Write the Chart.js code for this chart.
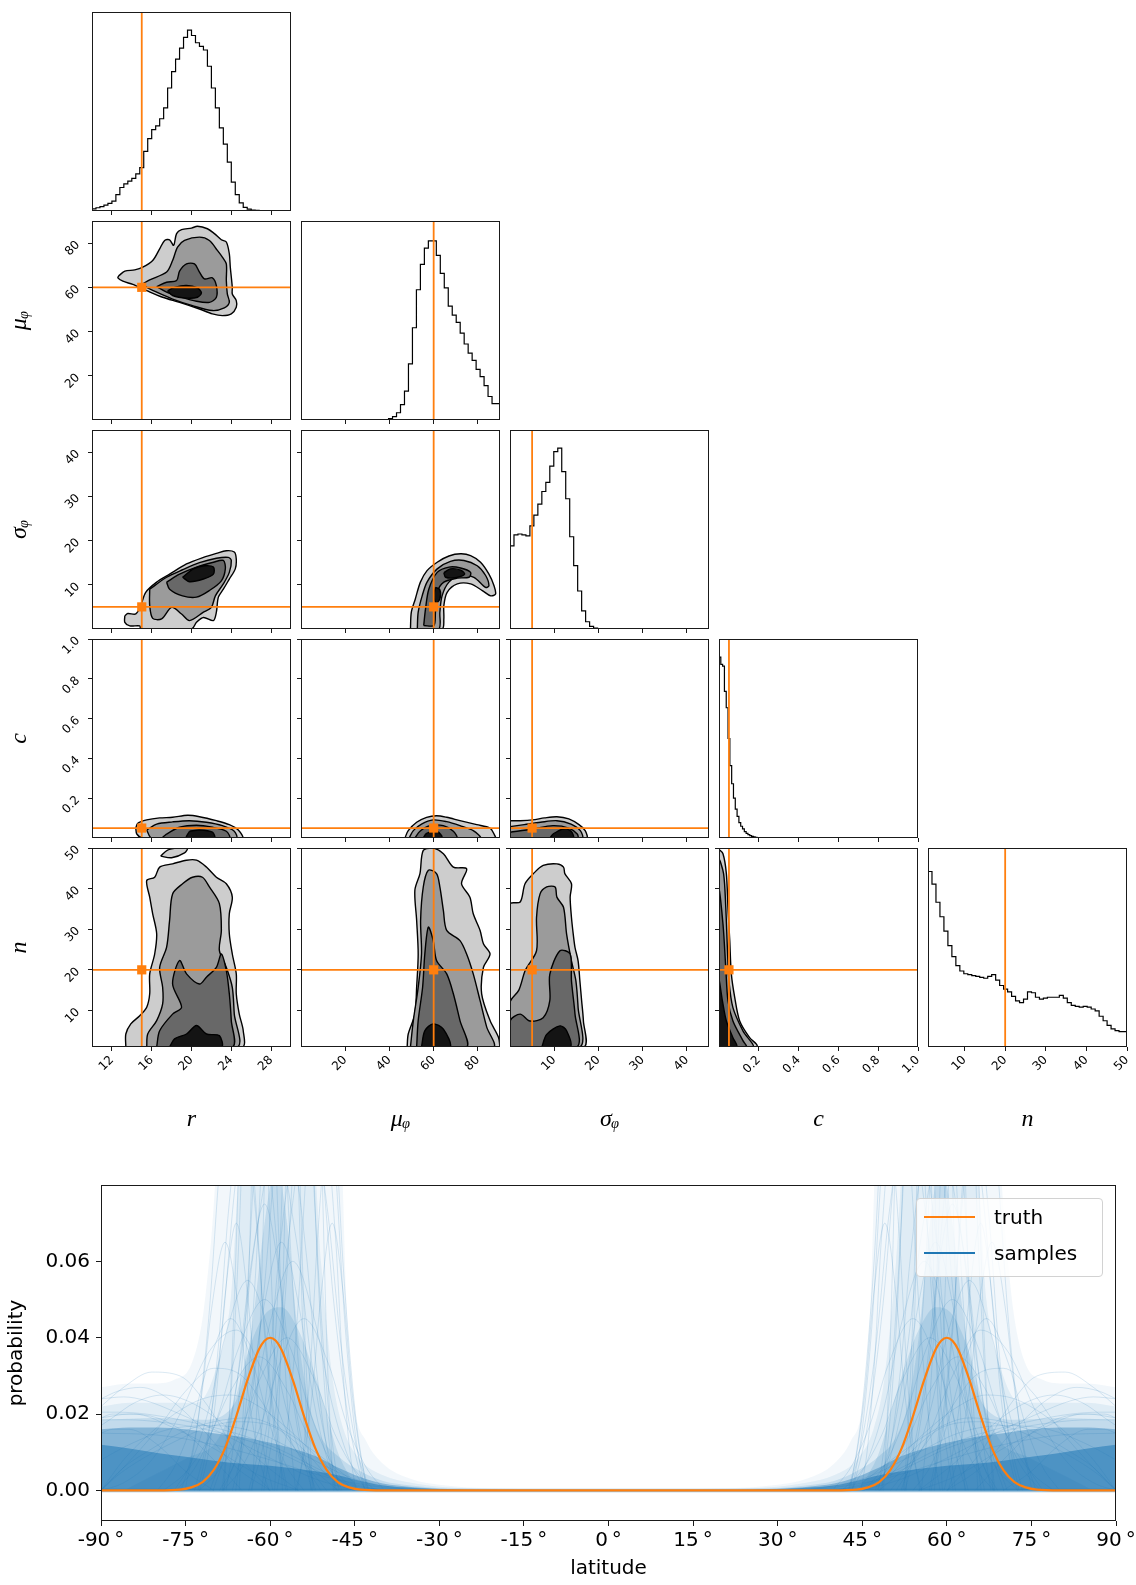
<!DOCTYPE html>
<html><head><meta charset="utf-8">
<script src="https://cdn.jsdelivr.net/npm/chart.js@4.4.1/dist/chart.umd.min.js"></script>
<style>
html,body{margin:0;padding:0;background:#fff;}
#fig{position:relative;width:1136px;height:1585px;overflow:hidden;background:#fff;}
#fig canvas{position:absolute;}
#legend{position:absolute;left:916px;top:1198px;width:187px;height:79px;box-sizing:border-box;border:1px solid #d2d2d2;border-radius:4px;background:rgba(255,255,255,0.8);font-family:'DejaVu Sans',sans-serif;font-size:20px;color:#000;}
#legend .ln{position:absolute;left:7px;width:51px;height:2px;}
#legend .tx{position:absolute;left:77px;line-height:23px;white-space:nowrap;}
</style>
</head><body>
<div id="fig">
<div id="legend">
  <div class="ln" style="top:17px;background:#ff7f0e"></div><div class="tx" style="top:7px">truth</div>
  <div class="ln" style="top:53px;background:#1f77b4"></div><div class="tx" style="top:43px">samples</div>
</div>
</div>
<script>
// ---------------- corner plot data ----------------
const paramLabels = ['r', 'μᵩ', 'σᵩ', 'c', 'n'];
const paramMin = [10, 0, 0, 0, 1];
const paramMax = [30, 90, 45, 1, 50];
const paramTicks = [[12,16,20,24,28],[20,40,60,80],[10,20,30,40],[0.2,0.4,0.6,0.8,1.0],[10,20,30,40,50]];
const truthValues = [15, 60, 5, 0.05, 20];

// 1D marginal histograms (relative heights, peak = 100), equal bins across each range
const histR = [0.8,1.2,1.8,2.4,3.2,4.2,5.5,9,13,15, 16.5,18,20.5,24,33,40,45,47,51,57,
  68,77,84,90,96,100,97,93,91,89, 80,68,57,46,37,27,16,9,4.5,2, 1,0.5,0.3,0.1,0,0,0,0,0,0];
const histMu = [0,0,0,0,0,0,0,0,0,0, 0,0,0,0,0,0,0,0,0,0, 0,0,0.2,0.8,1.9,4,8.5,16,31,51,
  72,86,95,99,99,91,81,73,63,58, 54,48,42,37,33,28,24,19,13,9];
const histSigma = [38,46,52,52.5,52,51.5,57,63,69,76, 81,90,98,100,87,72,51,35,21,10,
  4,1.5,0.5,0.1,0,0,0,0,0,0, 0,0,0,0,0,0,0,0,0,0, 0,0,0,0,0,0,0,0,0,0];
const histC = [92,100,96,95,81,72,55,40,30,22, 16,12,8.5,6.5,5,3.5,2.6,1.9,1.3,0.9,
  0.6,0.4,0.25,0.15,0.1,0.05,0,0,0,0, 0,0,0,0,0,0,0,0,0,0, 0,0,0,0,0,0,0,0,0,0,
  0,0,0,0,0,0,0,0,0,0, 0,0,0,0,0,0,0,0,0,0, 0,0,0,0,0,0,0,0,0,0, 0,0,0,0,0,0,0,0,0,0,
  0,0,0,0,0,0,0,0,0,0, 0,0,0,0,0,0,0,0,0,0];
const histN = [100,97,90,80,72,64,56,50,45,42, 40.5,40,39.5,39,38.5,38,39,40,37,34,
  32,30.5,28,25.5,24.5,26.5,30.5,30,27.5,26.5, 27,27.5,27.5,27.5,28.5,27,24.5,23,22.5,22,
  22.5,22,21,20,17,14.5,12,10,9,8.5];

// 2D contour levels (each level: list of polygons in data units [x, y])
const contMuR = [
 [[[12.7,65.3],[13.3,67.3],[14.3,67.9],[15.1,69.1],[16.1,72.1],[16.8,77.4],[17.3,81.2],[17.8,81.5],[18.2,79],[18.5,84.3],[19.0,86.1],[20.0,86.8],[20.6,87.6],[21.6,86.5],[22.3,84.3],[23.0,81.5],[23.5,80.5],[23.8,75.2],[23.9,69.1],[24.1,60],[24.1,57],[24.5,54],[24.5,51],[24.0,48],[23.1,47.2],[22.1,48],[20.8,50.2],[18.8,53.2],[17.1,55.5],[15.5,58.5],[14.1,61.3],[13.1,62.8],[12.6,64.3]]],
 [[[15.1,61.6],[15.8,63.4],[17.5,66.9],[18.1,72.1],[18.6,78.2],[19.3,81.2],[20.8,82.7],[21.8,81.2],[22.6,76.7],[23.1,73.7],[23.5,70.6],[23.5,63.1],[23.6,57],[23.8,53.2],[23.3,50.7],[22.1,49.5],[20.1,51.7],[18.1,54.7],[16.5,57.8],[15.5,60]]],
 [[[16.5,60.3],[17.5,62.3],[18.5,63.1],[18.8,67.3],[19.5,70.6],[20.3,70.6],[20.8,66.9],[21.3,63.8],[22.1,64.3],[22.5,60.8],[22.5,55.5],[21.8,53.2],[20.5,53.7],[18.8,55.8],[17.5,57.8]]],
 [[[17.6,58.5],[18.3,60],[19.5,60.8],[20.6,59.7],[21.0,57.5],[20.6,55.5],[19.5,55.1],[18.1,56.3]]]
];
const contSigmaR = [
 [[[13.3,3.0],[13.6,3.5],[14.4,3.4],[14.9,5.3],[15.4,8.3],[16.5,10.6],[17.8,12.4],[19.5,14.7],[21.2,16.2],[22.5,17.1],[23.5,17.7],[24.3,17.4],[24.5,15.8],[24.4,13.6],[23.8,11.3],[23.2,9.0],[22.7,7.2],[22.5,3.8],[22.2,1.9],[21.2,2.6],[20.5,1.5],[20.0,0],[14.9,0],[14.8,0.7],[13.8,0.7],[13.3,1.5]]],
 [[[15.8,9.0],[17.5,11.7],[19.1,13.4],[20.8,15.0],[22.5,16.0],[23.7,16.2],[24.0,15.5],[23.8,12.8],[23.2,10.2],[22.4,7.5],[22.0,4.9],[21.2,3.8],[19.8,1.9],[19.0,3.4],[18.0,4.9],[17.0,2.3],[16.1,2.4],[15.8,5.3]]],
 [[[17.5,10.6],[18.8,12.4],[20.5,14.0],[22.2,15.1],[23.2,15.5],[23.4,13.6],[23.0,10.9],[21.8,8.7],[20.5,7.2],[19.1,7.5],[17.8,9.0]]],
 [[[19.1,11.7],[20.2,13.6],[21.3,14.3],[22.2,14.0],[22.2,12.4],[21.2,11.3],[19.8,10.7]]]
];
const contSigmaMu = [
 [[[49.5,0],[49.9,3.8],[51.7,6.8],[54.0,10.6],[57.0,13.2],[61.6,15.1],[66.9,16.5],[72.2,17.0],[76.7,16.6],[81.2,15.1],[85.0,12.4],[87.3,9.8],[88.0,7.9],[85.8,7.5],[82.0,8.7],[76.7,10.2],[70.7,10.2],[66.1,8.3],[64.6,5.3],[64.6,2.3],[63.8,0]]],
 [[[52.6,0],[53.0,3.8],[54.8,7.5],[57.0,10.6],[61.6,13.6],[67.6,15.3],[73.7,15.5],[79.7,14.3],[83.5,12.1],[85.0,9.8],[83.5,9.4],[78.2,11.7],[72.2,12.1],[66.9,10.6],[63.8,7.5],[62.8,3.8],[62.3,0]]],
 [[[55.5,0.8],[56.3,4.5],[57.8,9.0],[61.6,12.8],[66.9,14.0],[72.2,13.8],[76.7,12.8],[76.0,11.7],[70.7,11.5],[64.6,10.6],[61.6,8.3],[60.8,3.8],[60.1,0.8]]],
 [[[64.6,12.7],[67.6,13.6],[72.2,13.3],[74.0,12.4],[69.9,11.6],[65.4,11.7]],
  [[60.8,9.4],[62.8,8.9],[62.8,6.8],[61.1,5.9],[60.1,7.5]]]
];
const contCR = [
 [[[14.4,0.05],[14.6,0.074],[15.5,0.091],[16.8,0.101],[18.1,0.104],[19.6,0.114],[20.8,0.107],[22.5,0.087],[23.8,0.067],[24.7,0.04],[25.1,0],[15.1,0],[14.5,0.02]]],
 [[[15.5,0.04],[16.5,0.07],[18.1,0.081],[19.8,0.087],[21.5,0.079],[23.1,0.062],[24.3,0.034],[24.5,0],[16.0,0]]],
 [[[17.5,0.02],[18.8,0.054],[20.5,0.064],[22.1,0.054],[23.5,0.034],[23.8,0],[17.1,0]]],
 [[[19.8,0.034],[20.8,0.04],[22.1,0.029],[22.3,0],[19.5,0]]]
];
const contCMu = [
 [[[47.0,0],[48.5,0.037],[52.3,0.079],[56.8,0.104],[61.3,0.112],[65.9,0.104],[71.9,0.087],[79.5,0.067],[85.5,0.05],[87.3,0.02],[87.8,0]]],
 [[[48.9,0],[50.8,0.037],[54.5,0.07],[59.8,0.091],[65.9,0.082],[71.9,0.062],[77.9,0.037],[81.0,0]]],
 [[[51.5,0],[53.8,0.034],[58.3,0.062],[64.4,0.062],[68.9,0.034],[70.4,0]]],
 [[[55.3,0],[56.8,0.023],[61.3,0.034],[63.6,0.012],[63.6,0]]]
];
const contCSigma = [
 [[[0,0.087],[2.3,0.087],[5.1,0.091],[7.8,0.101],[10.6,0.107],[13.3,0.096],[15.6,0.067],[17.0,0.037],[17.3,0],[0,0]]],
 [[[0,0.057],[3.2,0.067],[6.9,0.079],[10.6,0.087],[13.8,0.07],[15.9,0.037],[16.3,0],[0,0]]],
 [[[0,0.029],[5.1,0.045],[9.7,0.062],[13.3,0.05],[15.2,0.02],[15.3,0],[0,0]]],
 [[[9.7,0.02],[12.0,0.045],[13.8,0.034],[14.3,0],[9.2,0]]]
];
const contNR = [
 [[[13.4,1],[13.4,4.2],[13.9,6.7],[14.8,8.7],[15.5,10.8],[15.8,14.1],[15.8,19.0],[16.3,23.9],[16.5,28.9],[16.1,33.8],[15.8,37.9],[15.5,42.0],[16.3,42.8],[16.8,45.3],[18.1,46.1],[19.5,47.0],[20.5,47.0],[21.5,45.3],[22.5,42.8],[23.5,41.2],[24.1,37.9],[23.8,33.8],[23.8,28.9],[24.1,23.9],[24.5,19.0],[24.5,14.1],[24.8,9.1],[25.2,5.0],[25.1,1]],
  [[16.9,48.0],[17.6,49.5],[18.8,50],[19.6,50],[19.3,48.8],[18.0,47.6]]],
 [[[15.5,1],[15.6,4.2],[16.5,7.5],[17.1,11.6],[17.1,15.7],[16.8,20.6],[17.5,25.6],[17.8,32.2],[18.1,38.7],[19.1,41.2],[20.1,42.8],[21.1,42.8],[21.8,40.4],[22.8,36.3],[23.0,29.7],[22.8,24.8],[23.5,20.6],[24.1,15.7],[24.3,9.1],[24.6,1]]],
 [[[16.5,1],[16.8,5.0],[18.1,9.1],[19.0,10.8],[18.1,16.5],[18.8,22.3],[19.5,19.0],[20.8,16.5],[21.5,18.2],[22.5,20.6],[23.0,23.9],[23.5,19.8],[23.8,14.1],[24.0,7.5],[24.1,1]]],
 [[[17.8,1],[18.3,3.0],[19.5,4.2],[20.5,6.3],[21.5,4.2],[22.8,3.8],[23.0,1]]]
];
const contNMu = [
 [[[48.0,1],[48.5,4.2],[51.5,9.1],[52.3,15.7],[53.0,23.9],[52.3,32.2],[51.5,39.6],[53.8,43.7],[55.3,49.4],[59.8,50],[64.4,48.6],[68.9,45.3],[74.9,44.9],[72.6,41.2],[76.4,37.9],[77.9,33.8],[81.0,29.7],[82.5,26.4],[85.5,23.9],[82.5,20.6],[81.7,14.1],[85.5,7.5],[89.3,3.4],[89.7,1]]],
 [[[49.5,1],[50.8,7.5],[53.0,15.7],[54.5,23.9],[54.1,32.2],[55.3,40.4],[57.6,44.5],[61.3,43.7],[62.8,40.4],[64.4,34.6],[65.9,29.7],[71.9,27.2],[74.9,23.9],[77.9,19.0],[81.0,12.4],[84.0,5.9],[87.0,1]]],
 [[[52.3,1],[53.0,7.5],[55.0,15.7],[56.0,23.9],[57.6,30.5],[59.8,27.2],[61.3,22.3],[65.9,19.0],[68.9,14.1],[71.9,7.5],[74.9,1]]],
 [[[54.5,1],[56.0,5.0],[59.8,6.7],[64.4,5.4],[67.4,1]]]
];
const contNSigma = [
 [[[0,1],[0,36.2],[2.3,36.7],[3.4,41.2],[5.3,43.7],[7.5,45.7],[10.6,46.1],[12.1,45.3],[12.4,43.7],[13.9,41.2],[13.6,37.9],[13.9,32.9],[14.3,28.8],[14.7,25.5],[15.4,22.2],[15.8,17.3],[16.2,12.4],[16.6,7.4],[16.7,1]]],
 [[[0,1],[0,12],[2.0,15],[3.5,20],[6.0,24.7],[6.0,32.9],[6.8,38.7],[8.3,40.4],[10.2,40.4],[10.6,37.9],[12.1,35.4],[12.8,28.8],[13.9,22.2],[14.9,17.3],[15.4,10.7],[15.8,1]]],
 [[[0,1],[0,7.4],[2.3,9.1],[4.5,7.4],[7.5,8.2],[9.0,12.4],[9.0,18.9],[11.3,24.7],[13.6,23.9],[13.9,17.3],[14.7,9.1],[15.1,1]]],
 [[[7.2,1],[8.3,4.1],[11.3,6.2],[12.8,5.0],[13.6,1]]]
];
const contNC = [
 [[[0,1],[0,49.4],[0.02,48.6],[0.037,43.7],[0.045,35.4],[0.054,27.2],[0.062,19.0],[0.079,13.2],[0.104,7.4],[0.154,3.3],[0.188,1.7],[0.191,1]]],
 [[[0,1],[0,47.0],[0.023,43.7],[0.034,35.4],[0.042,25.5],[0.05,17.3],[0.07,10.7],[0.121,4.9],[0.171,1]]],
 [[[0,1],[0,39.5],[0.02,31.3],[0.034,20.6],[0.045,12.4],[0.07,7.4],[0.121,2.5],[0.137,1]]],
 [[[0,1],[0,17.3],[0.017,12.4],[0.037,7.4],[0.07,3.3],[0.09,1]]]
];

// ---------------- latitude distribution data ----------------
const latTicks = [-90,-75,-60,-45,-30,-15,0,15,30,45,60,75,90];
const probTicks = [0, 0.02, 0.04, 0.06];
const truthLat = [-90,-80,-76,-74,-72,-70,-68,-66,-64,-62,-61,-60,-59,-58,-56,-54,-52,-50,-48,-46,-44,-40,0,40,44,46,48,50,52,54,56,58,59,60,61,62,64,66,68,70,72,74,76,80,90];
const truthProb = [0,0,0.0002,0.0008,0.0022,0.0054,0.0111,0.0195,0.029,0.0369,0.0392,0.04,0.0392,0.0369,0.029,0.0195,0.0111,0.0054,0.0022,0.0008,0.0002,0,0,0,0.0002,0.0008,0.0022,0.0054,0.0111,0.0195,0.029,0.0369,0.0392,0.04,0.0392,0.0369,0.029,0.0195,0.0111,0.0054,0.0022,0.0008,0.0002,0,0];
// density envelopes of the posterior sample curves (northern half; the model is symmetric)
const envHaze  = [[0,0.0002],[20,0.0005],[30,0.0015],[35,0.003],[40,0.007],[43,0.013],[45,0.022],[46.5,0.05],[47.5,0.09],[69,0.09],[70.5,0.065],[72,0.045],[74,0.033],[77,0.029],[81,0.028],[85,0.028],[90,0.027]];
const envLight = [[0,0.0001],[20,0.0003],[30,0.001],[35,0.002],[40,0.004],[44,0.008],[47,0.016],[49,0.03],[51,0.06],[52.5,0.09],[65,0.09],[67,0.05],[70,0.03],[73,0.023],[80,0.023],[85,0.023],[90,0.022]];
const envMid   = [[25,0],[30,0.0006],[35,0.0013],[40,0.0025],[44,0.005],[48,0.009],[51,0.014],[53,0.022],[55,0.04],[57,0.07],[59,0.085],[61,0.07],[63,0.045],[65,0.028],[68,0.02],[72,0.0185],[80,0.019],[90,0.0185]];
const envSpike = [[44,0],[46,0.004],[48,0.01],[50,0.02],[52,0.03],[55,0.042],[58,0.048],[61,0.046],[64,0.036],[66,0.025],[68,0.017],[70,0.012],[74,0.009],[78,0.006],[82,0.003],[86,0]];
const envBand  = [[20,0],[30,0.0004],[35,0.0009],[40,0.0018],[44,0.0035],[48,0.006],[52,0.009],[56,0.011],[60,0.0125],[65,0.014],[70,0.015],[75,0.016],[80,0.0165],[85,0.0165],[90,0.016]];
const envCore  = [[15,0],[30,0.0003],[35,0.0007],[40,0.0013],[44,0.0025],[48,0.004],[52,0.005],[56,0.0058],[60,0.0065],[65,0.007],[70,0.0078],[75,0.0088],[80,0.0098],[85,0.011],[90,0.012]];
const envAlpha = [0.06, 0.09, 0.15, 0.14, 0.38, 0.55];
// individual sample curves (northern half)
const spikeCurves = [
 [[42.5,0],[44,0.0095],[45.5,0.026],[47,0.051],[49,0.07],[51,0.051],[52.5,0.026],[54,0.0095],[55.5,0]],
 [[43.2,0],[45,0.016],[46.8,0.045],[48.6,0.088],[51,0.12],[53.4,0.088],[55.2,0.045],[57,0.016],[58.8,0]],
 [[42.6,0],[45,0.0135],[47.4,0.0375],[49.8,0.073],[53,0.1],[56.2,0.073],[58.6,0.0375],[61,0.0135],[63.4,0]],
 [[48.5,0],[50,0.02],[51.5,0.056],[53,0.11],[55,0.15],[57,0.11],[58.5,0.056],[60,0.02],[61.5,0]],
 [[43,0],[46,0.0081],[49,0.0225],[52,0.044],[56,0.06],[60,0.044],[63,0.0225],[66,0.0081],[69,0]],
 [[47.9,0],[50,0.027],[52.1,0.075],[54.2,0.146],[57,0.2],[59.8,0.146],[61.9,0.075],[64,0.027],[66.1,0]],
 [[52.8,0],[54,0.034],[55.2,0.094],[56.4,0.18],[58,0.25],[59.6,0.18],[60.8,0.094],[62,0.034],[63.2,0]],
 [[47.3,0],[50,0.012],[52.7,0.034],[55.4,0.066],[59,0.09],[62.6,0.066],[65.3,0.034],[68,0.012],[70.7,0]],
 [[52.2,0],[54,0.0176],[55.8,0.049],[57.6,0.095],[60,0.13],[62.4,0.095],[64.2,0.049],[66,0.0176],[67.8,0]],
 [[45.4,0],[49,0.0068],[52.6,0.019],[56.2,0.0365],[61,0.05],[65.8,0.0365],[69.4,0.019],[73,0.0068],[76.6,0]],
 [[55.5,0],[57,0.024],[58.5,0.0675],[60,0.131],[62,0.18],[64,0.131],[65.5,0.0675],[67,0.024],[68.5,0]],
 [[52.6,0],[55,0.0149],[57.4,0.041],[59.8,0.08],[63,0.11],[66.2,0.08],[68.6,0.041],[71,0.0149],[73.4,0]],
 [[57.2,0],[59,0.0135],[60.8,0.0375],[62.6,0.073],[65,0.1],[67.4,0.073],[69.2,0.0375],[71,0.0135],[72.8,0]],
 [[59.5,0],[61,0.0095],[62.5,0.026],[64,0.051],[66,0.07],[68,0.051],[69.5,0.026],[71,0.0095],[72.5,0]],
 [[39.7,0],[43,0.0061],[46.3,0.0169],[49.6,0.0329],[54,0.045],[58.4,0.0329],[61.7,0.0169],[65,0.0061],[68.3,0]],
 [[54,0],[57,0.0061],[60,0.0169],[63,0.0329],[67,0.045],[71,0.0329],[74,0.0169],[77,0.0061],[80,0]],
 [[44.8,0],[46,0.012],[47.2,0.034],[48.4,0.066],[50,0.09],[51.6,0.066],[52.8,0.034],[54,0.012],[55.2,0]],
 [[42.9,0],[45,0.0216],[47.1,0.06],[49.2,0.117],[52,0.16],[54.8,0.117],[56.9,0.06],[59,0.0216],[61.1,0]],
 [[48.8,0],[50,0.0405],[51.2,0.1125],[52.4,0.219],[54,0.3],[55.6,0.219],[56.8,0.1125],[58,0.0405],[59.2,0]],
 [[48.2,0],[50,0.0115],[51.8,0.0319],[53.6,0.062],[56,0.085],[58.4,0.062],[60.2,0.0319],[62,0.0115],[63.8,0]],
 [[47.6,0],[50,0.0088],[52.4,0.0244],[54.8,0.0475],[58,0.065],[61.2,0.0475],[63.6,0.0244],[66,0.0088],[68.4,0]],
 [[52.5,0],[54,0.047],[55.5,0.131],[57,0.255],[59,0.35],[61,0.255],[62.5,0.131],[64,0.047],[65.5,0]],
 [[51.9,0],[54,0.0101],[56.1,0.0281],[58.2,0.0548],[61,0.075],[63.8,0.0548],[65.9,0.0281],[68,0.0101],[70.1,0]],
 [[57.8,0],[59,0.027],[60.2,0.075],[61.4,0.146],[63,0.2],[64.6,0.146],[65.8,0.075],[67,0.027],[68.2,0]],
 [[51,0],[54,0.0074],[57,0.0206],[60,0.0402],[64,0.055],[68,0.0402],[71,0.0206],[74,0.0074],[77,0]],
 [[56.9,0],[59,0.0162],[61.1,0.045],[63.2,0.0876],[66,0.12],[68.8,0.0876],[70.9,0.045],[73,0.0162],[75.1,0]],
 [[60.2,0],[62,0.0088],[63.8,0.0244],[65.6,0.0475],[68,0.065],[70.4,0.0475],[72.2,0.0244],[74,0.0088],[75.8,0]],
 [[41.4,0],[45,0.0054],[48.6,0.015],[52.2,0.0292],[57,0.04],[61.8,0.0292],[65.4,0.015],[69,0.0054],[72.6,0]],
 [[45.1,0],[49,0.0047],[52.9,0.0131],[56.8,0.0256],[62,0.035],[67.2,0.0256],[71.1,0.0131],[75,0.0047],[78.9,0]],
 [[43.3,0],[46,0.0176],[48.7,0.049],[51.4,0.095],[55,0.13],[58.6,0.095],[61.3,0.049],[64,0.0176],[66.7,0]]
];
const broadCurves = [
 [[38,0],[45,0.0012],[50,0.004],[55,0.0075],[60,0.011],[65,0.0135],[70,0.0155],[75,0.017],[80,0.018],[85,0.0185],[90,0.0185]],
 [[40,0],[46,0.002],[52,0.006],[58,0.0105],[64,0.014],[70,0.0165],[76,0.0185],[82,0.02],[87,0.0205],[90,0.0205]],
 [[45,0],[52,0.003],[58,0.007],[64,0.0115],[70,0.016],[76,0.02],[82,0.0235],[86,0.0245],[90,0.024]],
 [[60,0],[66,0.006],[72,0.016],[78,0.024],[83,0.027],[87,0.026],[90,0.024]],
 [[55,0],[62,0.008],[68,0.017],[74,0.023],[79,0.025],[84,0.023],[88,0.019],[90,0.017]],
 [[50,0.004],[55,0.012],[60,0.017],[66,0.018],[72,0.016],[78,0.012],[83,0.008],[87,0.004],[90,0]],
 [[45,0.002],[52,0.01],[58,0.016],[64,0.019],[70,0.018],[76,0.015],[82,0.01],[86,0.006],[90,0]],
 [[50,0.006],[56,0.015],[62,0.022],[67,0.025],[72,0.024],[77,0.02],[82,0.014],[86,0.008],[90,0]],
 [[50,0],[56,0.012],[61,0.03],[66,0.042],[71,0.036],[76,0.02],[81,0.008],[86,0.002],[90,0]],
 [[70,0],[75,0.005],[80,0.012],[85,0.016],[88,0.016],[90,0.015]],
 [[30,0],[40,0.0008],[50,0.0035],[60,0.008],[70,0.012],[80,0.0145],[90,0.015]],
 [[65,0],[70,0.008],[75,0.015],[80,0.019],[85,0.02],[90,0.019]],
 [[60,0],[66,0.01],[71,0.022],[76,0.03],[81,0.031],[86,0.027],[90,0.022]],
 [[35,0],[45,0.003],[55,0.01],[62,0.015],[70,0.017],[78,0.016],[85,0.012],[90,0.008]],
 [[55,0],[62,0.004],[70,0.011],[78,0.017],[84,0.02],[88,0.02],[90,0.019]],
 [[48,0],[54,0.008],[60,0.02],[65,0.03],[70,0.032],[75,0.026],[80,0.016],[86,0.006],[90,0]]
];

// ---------------- helpers ----------------
const ORANGE = '#ff7f0e';
const levelColors = ['#cdcdcd', '#9b9b9b', '#686868', '#141414'];
const histograms = [histR, histMu, histSigma, histC, histN];
const contourTable = {'1,0': contMuR, '2,0': contSigmaR, '2,1': contSigmaMu, '3,0': contCR, '3,1': contCMu,
  '3,2': contCSigma, '4,0': contNR, '4,1': contNMu, '4,2': contNSigma, '4,3': contNC};
const toXY = pts => pts.map(([x, y]) => ({x, y}));
const mirror = pts => pts.map(([x, y]) => [-x, y]).reverse();
const closePoly = pts => toXY(pts.concat([pts[0]]));
function stepPoints(lo, hi, vals) {
  const w = (hi - lo) / vals.length;
  const pts = vals.map((v, k) => ({x: lo + k * w, y: v}));
  pts.push({x: hi, y: vals[vals.length - 1]});
  return pts;
}
const fmtParam = (p, v) => p === 3 ? v.toFixed(1) : String(Math.round(v));
function fixSize(prop, size) {
  return s => {
    s[prop] = size;
    s.paddingTop = 0; s.paddingBottom = 0; s.paddingLeft = 0; s.paddingRight = 0;
  };
}

const framePlugin = {
  id: 'frame',
  afterDatasetsDraw(chart) {
    const {ctx, chartArea: a} = chart;
    ctx.save();
    ctx.strokeStyle = '#1a1a1a';
    ctx.lineWidth = 1;
    ctx.strokeRect(Math.round(a.left) + 0.5, Math.round(a.top) + 0.5, Math.round(a.right - a.left) - 1, Math.round(a.bottom - a.top) - 1);
    ctx.restore();
  }
};

function mkCanvas(left, top, w, h) {
  const c = document.createElement('canvas');
  c.width = w; c.height = h;
  c.style.left = left + 'px'; c.style.top = top + 'px';
  c.style.width = w + 'px'; c.style.height = h + 'px';
  document.getElementById('fig').insertBefore(c, document.getElementById('legend'));
  return c;
}

// ---------------- corner plot ----------------
const colLeft = [92, 301, 510, 719, 928];
const rowTop = [12, 221, 430, 639, 848];
const PW = 199, PH = 199;
const tickFont = {family: "'DejaVu Sans', sans-serif", size: 12};
const labelFont = {family: "'Liberation Serif', 'DejaVu Serif', serif", style: 'italic', size: 24};

function panelDatasets(i, j) {
  const ds = [];
  const yMin = i === j ? 0 : paramMin[i];
  const yMax = i === j ? 110 : paramMax[i];
  if (i === j) {
    ds.push({data: stepPoints(paramMin[i], paramMax[i], histograms[i]), stepped: 'after',
      borderColor: '#000', borderWidth: 1.2, fill: false, order: 5});
  } else {
    contourTable[i + ',' + j].forEach((polys, k) => polys.forEach(poly => ds.push({
      data: closePoly(poly), fill: 'shape', backgroundColor: levelColors[k],
      borderColor: '#000', borderWidth: 1.4, tension: 0.3, order: 20 - k})));
    ds.push({data: [{x: paramMin[j], y: truthValues[i]}, {x: paramMax[j], y: truthValues[i]}],
      borderColor: ORANGE, borderWidth: 1.8, fill: false, order: 3});
    ds.push({data: [{x: truthValues[j], y: truthValues[i]}], showLine: false, pointStyle: 'rect',
      pointRadius: 6.5, pointBackgroundColor: ORANGE, pointBorderWidth: 0, order: 1});
  }
  ds.push({data: [{x: truthValues[j], y: yMin}, {x: truthValues[j], y: yMax}],
    borderColor: ORANGE, borderWidth: 1.8, fill: false, order: 2});
  return ds;
}

function makePanel(i, j) {
  const L = j === 0 ? colLeft[0] : 8;
  const B = i === 4 ? 100 : 8;
  const T = 20, R = 12;
  const canvas = mkCanvas(colLeft[j] - L, rowTop[i] - T, L + PW + R, T + PH + B);
  const diag = i === j;
  new Chart(canvas, {
    type: 'line',
    data: {datasets: panelDatasets(i, j)},
    options: {
      responsive: false, animation: false, devicePixelRatio: 1,
      layout: {padding: {top: T, right: R, left: 0, bottom: 0}},
      plugins: {legend: {display: false}, tooltip: {enabled: false}},
      elements: {point: {radius: 0}},
      scales: {
        x: {
          type: 'linear', position: 'bottom', min: paramMin[j], max: paramMax[j],
          afterFit: fixSize('height', B),
          afterBuildTicks: s => { s.ticks = paramTicks[j].map(v => ({value: v})); },
          border: {display: false},
          grid: {display: true, drawOnChartArea: false, drawTicks: true, tickLength: 4, color: '#1a1a1a', lineWidth: 1},
          ticks: {display: i === 4, autoSkip: false, minRotation: 45, maxRotation: 45, padding: 2,
            font: tickFont, color: '#000', callback: v => fmtParam(j, v)},
          title: {display: i === 4, text: paramLabels[j], font: labelFont, color: '#000', padding: {top: 0, bottom: 13}}
        },
        y: {
          type: 'linear', position: 'left', min: diag ? 0 : paramMin[i], max: diag ? 110 : paramMax[i],
          afterFit: fixSize('width', L),
          afterBuildTicks: s => { s.ticks = diag ? [] : paramTicks[i].map(v => ({value: v})); },
          border: {display: false},
          grid: {display: !diag, drawOnChartArea: false, drawTicks: true, tickLength: 4, color: '#1a1a1a', lineWidth: 1},
          ticks: {display: j === 0 && !diag, autoSkip: false, minRotation: 45, maxRotation: 45, padding: 10,
            font: tickFont, color: '#000', callback: v => fmtParam(i, v)},
          title: {display: j === 0 && !diag, text: paramLabels[i], font: labelFont, color: '#000', padding: {top: 5, bottom: 0}}
        }
      }
    },
    plugins: [framePlugin]
  });
}
for (let i = 0; i < 5; i++) for (let j = 0; j <= i; j++) makePanel(i, j);

// ---------------- latitude chart ----------------
(function () {
  const L = 101, T = 15, R = 30, B = 64;
  const canvas = mkCanvas(0, 1170, 1136 + 10, 415);
  const ds = [];
  const envs = [envHaze, envLight, envMid, envSpike, envBand, envCore];
  envs.forEach((env, k) => {
    [mirror(env), env].forEach(side => ds.push({data: toXY(side), fill: {value: 0}, borderWidth: 0,
      backgroundColor: `rgba(31,119,180,${envAlpha[k]})`, cubicInterpolationMode: 'monotone', order: 100 - k}));
  });
  spikeCurves.concat(broadCurves).forEach(c => {
    [mirror(c), c].forEach(side => ds.push({data: toXY(side), fill: false, borderWidth: 1,
      borderColor: 'rgba(31,119,180,0.16)', cubicInterpolationMode: 'monotone', order: 50}));
  });
  ds.push({data: [{x: -90, y: 0}, {x: 90, y: 0}], borderColor: 'rgba(31,119,180,0.45)', borderWidth: 3.5, fill: false, order: 3});
  ds.push({label: 'truth', data: truthLat.map((x, k) => ({x, y: truthProb[k]})), borderColor: ORANGE,
    borderWidth: 2.2, fill: false, cubicInterpolationMode: 'monotone', order: 1});
  const bigFont = {family: "'DejaVu Sans', sans-serif", size: 20};
  new Chart(canvas, {
    type: 'line',
    data: {datasets: ds},
    options: {
      responsive: false, animation: false, devicePixelRatio: 1,
      layout: {padding: {top: T, right: R, left: 0, bottom: 0}},
      plugins: {legend: {display: false}, tooltip: {enabled: false}},
      elements: {point: {radius: 0}},
      scales: {
        x: {
          type: 'linear', min: -90, max: 90,
          afterFit: fixSize('height', B),
          afterBuildTicks: s => { s.ticks = latTicks.map(v => ({value: v})); },
          border: {display: false},
          grid: {drawOnChartArea: false, drawTicks: true, tickLength: 5, color: '#1a1a1a'},
          ticks: {autoSkip: false, maxRotation: 0, minRotation: 0, padding: 3, font: bigFont, color: '#000',
            callback: v => v + '\u2009°'},
          title: {display: true, text: 'latitude', font: bigFont, color: '#000', padding: {top: 0, bottom: 4}}
        },
        y: {
          type: 'linear', min: -0.008, max: 0.08,
          afterFit: fixSize('width', L),
          afterBuildTicks: s => { s.ticks = probTicks.map(v => ({value: v})); },
          border: {display: false},
          grid: {drawOnChartArea: false, drawTicks: true, tickLength: 5, color: '#1a1a1a'},
          ticks: {autoSkip: false, padding: 6, font: bigFont, color: '#000', callback: v => v.toFixed(2)},
          title: {display: true, text: 'probability', font: bigFont, color: '#000', padding: {top: 5, bottom: 0}}
        }
      }
    },
    plugins: [framePlugin]
  });
})();
</script>
</body></html>
